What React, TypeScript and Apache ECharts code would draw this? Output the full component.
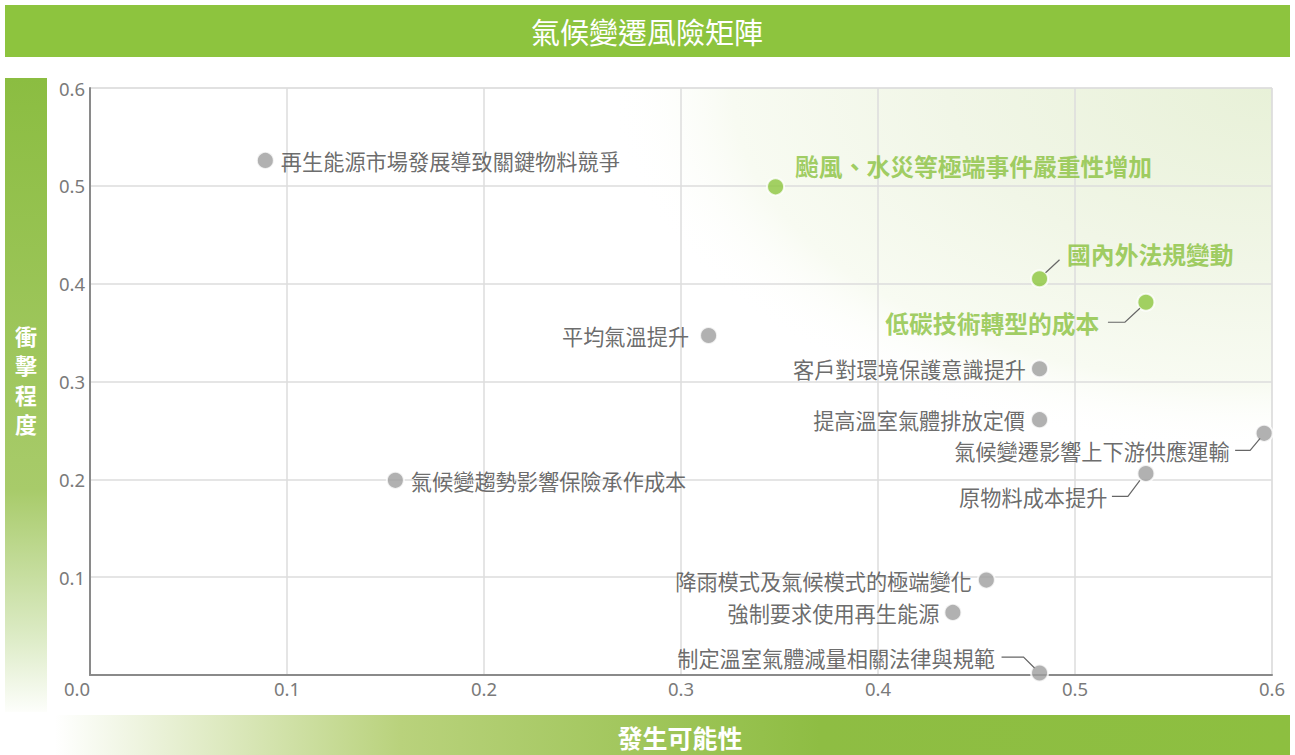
import React, { useEffect, useRef } from "react";
import * as echarts from "echarts";

const categories = [
  "再生能源市場發展導致關鍵物料競爭",
  "颱風、水災等極端事件嚴重性增加",
  "國內外法規變動",
  "低碳技術轉型的成本",
  "平均氣溫提升",
  "客戶對環境保護意識提升",
  "提高溫室氣體排放定價",
  "氣候變遷影響上下游供應運輸",
  "原物料成本提升",
  "氣候變趨勢影響保險承作成本",
  "降雨模式及氣候模式的極端變化",
  "強制要求使用再生能源",
  "制定溫室氣體減量相關法律與規範",
];
const likelihood = [0.089, 0.348, 0.482, 0.536, 0.314, 0.482, 0.482, 0.596, 0.536, 0.155, 0.455, 0.438, 0.482];
const impact = [0.526, 0.499, 0.405, 0.381, 0.347, 0.313, 0.261, 0.247, 0.206, 0.199, 0.097, 0.064, 0.002];
const highlighted = [false, true, true, true, false, false, false, false, false, false, false, false, false];

const xTicks = ["0.0", "0.1", "0.2", "0.3", "0.4", "0.5", "0.6"];
const yTicks = ["0.0", "0.1", "0.2", "0.3", "0.4", "0.5", "0.6"];

const TITLE = "氣候變遷風險矩陣";
const X_NAME = "發生可能性";
const Y_NAME = "衝擊程度";

// label placement (styles, not data)
const labelPlacement: { pos: string; dist: number; dy: number; line?: number[][] }[] = [
  { pos: "right", dist: 6, dy: 0 },
  { pos: "right", dist: 10, dy: -21 },
  { pos: "right", dist: 18, dy: -25, line: [[6, -6], [20, -19]] },
  { pos: "left", dist: 37, dy: 20, line: [[-38, 20], [-21, 20], [-6, 6]] },
  { pos: "left", dist: 10, dy: 0 },
  { pos: "left", dist: 4, dy: 0 },
  { pos: "left", dist: 5, dy: 0 },
  { pos: "left", dist: 25, dy: 17, line: [[-29, 17], [-14, 17], [-4, 5]] },
  { pos: "left", dist: 29, dy: 23, line: [[-34, 23], [-18, 23], [-6, 7]] },
  { pos: "right", dist: 6, dy: 0 },
  { pos: "left", dist: 5, dy: 0 },
  { pos: "left", dist: 4, dy: 0 },
  { pos: "left", dist: 35, dy: -16, line: [[-38, -16], [-16, -16], [-5, -5]] },
];

const FONT = '"Noto Sans CJK TC", "Noto Sans", sans-serif';
const NUM_FONT = '"Noto Sans", "Open Sans", sans-serif';
const GREEN = "#8dc43e";
const LABEL_GREEN = "#89c13d";

export default function App() {
  const ref = useRef<HTMLDivElement>(null);
  useEffect(() => {
    document.body.style.margin = "0";
    const chart = echarts.init(ref.current!, null, { renderer: "svg" });
    const left = 90, right = 23, top = 88, bottom = 80;
    const W = 1295, H = 755;
    const plotW = W - left - right;
    const plotH = H - top - bottom;

    const data = categories.map((name, i) => {
      const pl = labelPlacement[i];
      const hi = highlighted[i];
      return {
        name,
        value: [likelihood[i], impact[i]],
        itemStyle: { color: hi ? "#8cc63f" : "#9d9d9d", borderColor: "#fff", borderWidth: 2 },
        label: {
          show: true,
          position: pl.pos,
          distance: pl.dist,
          offset: [0, pl.dy],
          formatter: name,
          color: hi ? LABEL_GREEN : "#454545",
          fontSize: hi ? 23.8 : 21.2,
          fontWeight: hi ? "bold" : "normal",
          fontFamily: FONT,
        },
      };
    });

    const baseGraphics: any[] = [
      {
        type: "rect",
        z: -20,
        x: left + plotW,
        y: top,
        scaleY: 0.55,
        silent: true,
        shape: { x: -plotW, y: 0, width: plotW, height: plotH / 0.55 },
        style: {
          fill: new echarts.graphic.RadialGradient(0, 0, 720, [
            { offset: 0, color: "#e8f1d8" },
            { offset: 0.45, color: "#f1f6e7" },
            { offset: 0.75, color: "#f8fbf2" },
            { offset: 0.92, color: "rgba(255,255,255,0)" },
          ], true),
        },
      },
      {
        type: "rect",
        shape: { x: 5, y: 5, width: 1285, height: 52 },
        style: { fill: GREEN },
        silent: true,
      },
      {
        type: "text",
        x: 647,
        y: 31,
        style: {
          text: TITLE,
          fill: "#fff",
          font: `normal 29px ${FONT}`,
          align: "center",
          verticalAlign: "middle",
        },
      },
      {
        type: "rect",
        shape: { x: 5, y: 78, width: 42, height: 634 },
        style: {
          fill: new echarts.graphic.LinearGradient(0, 0, 0, 1, [
            { offset: 0, color: "#8bbd41" },
            { offset: 0.65, color: "#a8cb6a" },
            { offset: 0.88, color: "#dcebc5" },
            { offset: 1, color: "#fdfefb" },
          ]),
        },
        silent: true,
      },
      {
        type: "text",
        x: 26,
        y: 379,
        style: {
          text: Y_NAME.split("").join("\n"),
          fill: "#fff",
          font: `bold 22px ${FONT}`,
          lineHeight: 29.5,
          align: "center",
          verticalAlign: "middle",
        },
      },
      {
        type: "rect",
        shape: { x: 55, y: 715, width: 1235, height: 40 },
        style: {
          fill: new echarts.graphic.LinearGradient(0, 0, 1, 0, [
            { offset: 0, color: "#ffffff" },
            { offset: 0.28, color: "#b9d27c" },
            { offset: 0.62, color: "#8ebd43" },
            { offset: 1, color: "#8dbf40" },
          ]),
        },
        silent: true,
      },
      {
        type: "text",
        x: 680,
        y: 737,
        style: {
          text: X_NAME,
          fill: "#fff",
          font: `bold 25px ${FONT}`,
          align: "center",
          verticalAlign: "middle",
        },
      },
    ];

    chart.setOption({
      animation: false,
      textStyle: { fontFamily: FONT },
      grid: { left, right, top, bottom, show: true, borderColor: "#dddddd", borderWidth: 1 },
      xAxis: {
        type: "value",
        min: 0,
        max: 0.6,
        interval: 0.1,
        axisLine: { show: true, lineStyle: { color: "#8a8a8a", width: 2 } },
        axisTick: { show: false },
        splitLine: { show: true, lineStyle: { color: "#dcdcdc", width: 1.5 } },
        axisLabel: {
          color: "#7a7a7a",
          fontSize: 18.5,
          fontFamily: NUM_FONT,
          margin: 4,
          alignMinLabel: "right",
          formatter: (v: number) => xTicks[Math.round(v * 10)],
        },
      },
      yAxis: {
        type: "value",
        min: 0,
        max: 0.6,
        interval: 0.1,
        axisLine: { show: true, lineStyle: { color: "#8a8a8a", width: 2 } },
        axisTick: { show: false },
        splitLine: { show: true, lineStyle: { color: "#dcdcdc", width: 1.5 } },
        axisLabel: {
          color: "#7a7a7a",
          fontSize: 18.5,
          fontFamily: NUM_FONT,
          margin: 5,
          showMinLabel: false,
          formatter: (v: number) => yTicks[Math.round(v * 10)],
        },
      },
      series: [
        {
          type: "scatter",
          symbolSize: 17,
          data,
          z: 5,
        },
      ],
      graphic: baseGraphics,
    });

    const lines: any[] = [];
    categories.forEach((_, i) => {
      const pl = labelPlacement[i];
      if (!pl.line) return;
      const p = chart.convertToPixel({ seriesIndex: 0 }, [likelihood[i], impact[i]]) as number[];
      lines.push({
        type: "polyline",
        z: 10,
        silent: true,
        shape: { points: pl.line.map(([dx, dy]) => [p[0] + dx, p[1] + dy]) },
        style: { stroke: "#666", lineWidth: 1.2, fill: null },
      });
    });
    chart.setOption({ graphic: [...baseGraphics, ...lines] }, { replaceMerge: ["graphic"] });

    return () => chart.dispose();
  }, []);
  return <div ref={ref} style={{ width: 1295, height: 755 }} />;
}
